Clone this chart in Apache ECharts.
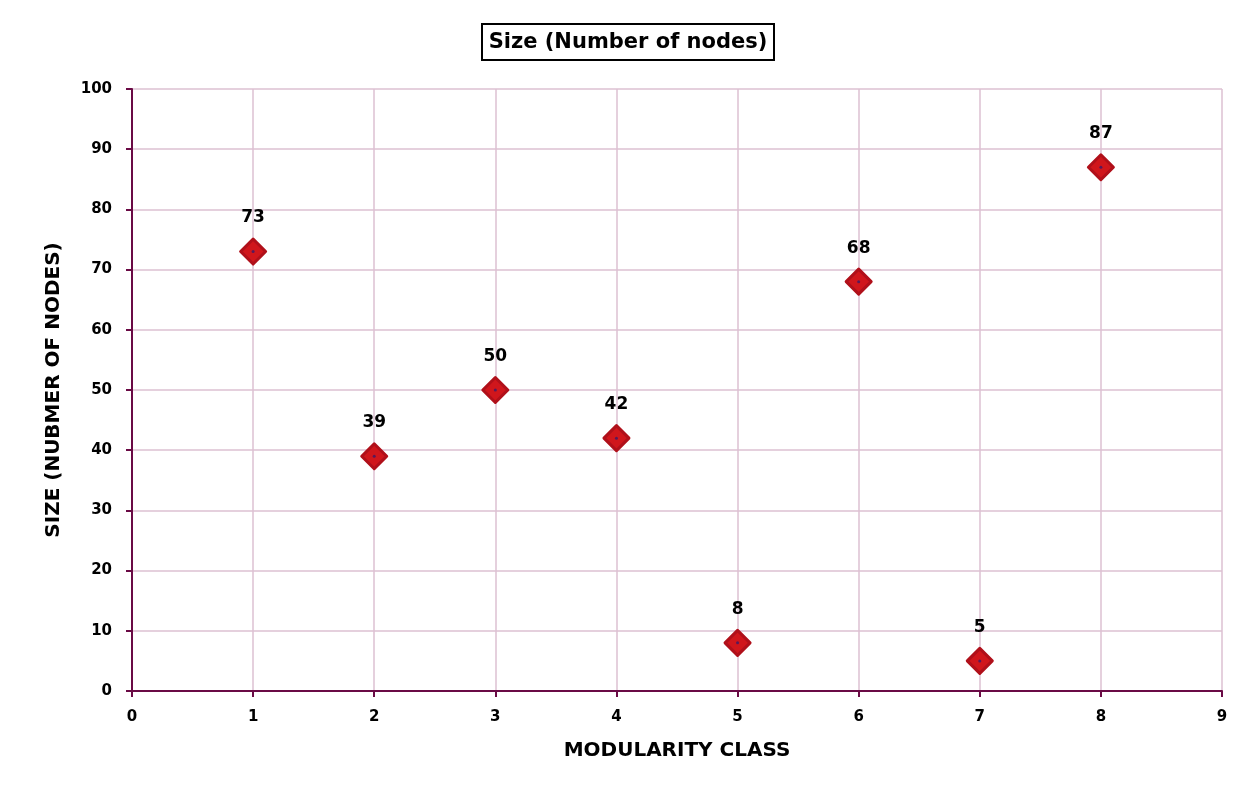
<!DOCTYPE html>
<html>
<head>
<meta charset="utf-8">
<script src="https://cdn.jsdelivr.net/npm/echarts@6/dist/echarts.min.js"></script>
<style>
  html, body { margin: 0; padding: 0; background: #fff; }
  #chart { width: 1256px; height: 794px; }
</style>
</head>
<body>
<div id="chart"></div>
<script>
// Node counts per modularity class
const classes = [1, 2, 3, 4, 5, 6, 7, 8];
const sizes = [73, 39, 50, 42, 8, 68, 5, 87];
const xTicks = [0, 1, 2, 3, 4, 5, 6, 7, 8, 9];
const yTicks = [0, 10, 20, 30, 40, 50, 60, 70, 80, 90, 100];

const FONT = '"DejaVu Sans", Lato, sans-serif';
const AXIS = '#6a0a45';
const GRID = '#dcc0d2';

const points = classes.map((c, i) => [c, sizes[i]]);

const chart = echarts.init(document.getElementById('chart'), null, { renderer: 'canvas' });
chart.setOption({
  animation: false,
  backgroundColor: '#ffffff',
  title: {
    text: 'Size (Number of nodes)',
    left: 'center',
    top: 24,
    padding: [8, 7, 7, 7],
    borderColor: '#000',
    borderWidth: 2,
    textStyle: { fontFamily: FONT, fontWeight: 'bold', fontSize: 21, color: '#000' }
  },
  grid: { left: 132, right: 34, top: 89, bottom: 103, containLabel: false },
  xAxis: {
    type: 'value',
    min: xTicks[0],
    max: xTicks[xTicks.length - 1],
    interval: 1,
    name: 'MODULARITY CLASS',
    nameLocation: 'middle',
    nameGap: 50,
    nameTextStyle: { fontFamily: FONT, fontWeight: 'bold', fontSize: 20, color: '#000' },
    axisLine: { show: true, onZero: false, lineStyle: { color: AXIS, width: 2 } },
    axisTick: { show: true, length: 6, lineStyle: { color: AXIS, width: 2 } },
    axisLabel: { margin: 19, fontFamily: FONT, fontWeight: 'bold', fontSize: 15, color: '#000' },
    splitLine: { show: true, lineStyle: { color: GRID, width: 1.5 } }
  },
  yAxis: {
    type: 'value',
    min: yTicks[0],
    max: yTicks[yTicks.length - 1],
    interval: 10,
    name: 'SIZE (NUBMER OF NODES)',
    nameLocation: 'middle',
    nameGap: 68,
    nameRotate: 90,
    nameTextStyle: { fontFamily: FONT, fontWeight: 'bold', fontSize: 20, color: '#000' },
    axisLine: { show: true, onZero: false, lineStyle: { color: AXIS, width: 2 } },
    axisTick: { show: true, length: 6, lineStyle: { color: AXIS, width: 2 } },
    axisLabel: { margin: 20, fontFamily: FONT, fontWeight: 'bold', fontSize: 15, color: '#000' },
    splitLine: { show: true, lineStyle: { color: GRID, width: 1.5 } }
  },
  series: [
    {
      type: 'scatter',
      data: points,
      symbol: 'diamond',
      symbolSize: 25,
      itemStyle: { color: '#d0161c', borderColor: '#b0101a', borderWidth: 3, borderJoin: 'round', opacity: 1 },
      label: {
        show: true,
        position: 'top',
        distance: 11,
        formatter: p => p.value[1],
        fontFamily: FONT,
        fontWeight: 'bold',
        fontSize: 17,
        color: '#000'
      },
      z: 3
    },
    {
      type: 'scatter',
      data: points,
      symbol: 'circle',
      symbolSize: 3,
      itemStyle: { color: '#3a1a6a' },
      silent: true,
      z: 4
    }
  ]
});
</script>
</body>
</html>
